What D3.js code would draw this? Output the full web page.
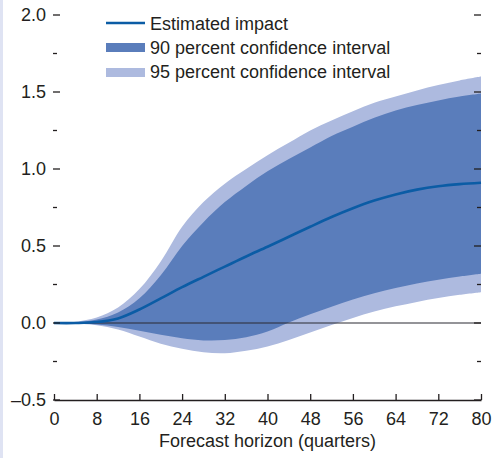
<!DOCTYPE html>
<html>
<head>
<meta charset="utf-8">
<script src="https://cdn.jsdelivr.net/npm/d3@7"></script>
<style>
  html, body { margin: 0; padding: 0; background: #ffffff; }
  svg { display: block; }
  text { font-family: "Liberation Sans", Arial, Helvetica, sans-serif; fill: #231f20; }
</style>
</head>
<body>
<svg id="chart" width="496" height="458"></svg>
<script>
// ---- Data ----
const quarters   = [0, 4, 8, 12, 16, 20, 24, 28, 32, 36, 40, 44, 48, 52, 56, 60, 64, 68, 72, 76, 80];
const estimate   = [0, 0.0, 0.006, 0.03, 0.088, 0.16, 0.233, 0.30, 0.366, 0.432, 0.495, 0.560, 0.625, 0.688, 0.745, 0.795, 0.835, 0.866, 0.888, 0.902, 0.911];
const ci90Upper  = [0, 0.005, 0.022, 0.068, 0.16, 0.31, 0.50, 0.655, 0.785, 0.89, 0.985, 1.065, 1.14, 1.215, 1.275, 1.333, 1.38, 1.415, 1.445, 1.47, 1.49];
const ci90Lower  = [0, -0.002, -0.01, -0.026, -0.05, -0.077, -0.099, -0.113, -0.111, -0.092, -0.055, 0.003, 0.057, 0.105, 0.153, 0.193, 0.227, 0.256, 0.281, 0.302, 0.32];
const ci95Upper  = [0, 0.008, 0.035, 0.10, 0.22, 0.40, 0.625, 0.785, 0.905, 1.0, 1.09, 1.17, 1.25, 1.315, 1.375, 1.43, 1.47, 1.51, 1.545, 1.575, 1.60];
const ci95Lower  = [0, -0.004, -0.015, -0.042, -0.088, -0.135, -0.168, -0.19, -0.196, -0.18, -0.152, -0.11, -0.062, -0.013, 0.033, 0.075, 0.108, 0.137, 0.162, 0.183, 0.20];
const xTicks     = [0, 8, 16, 24, 32, 40, 48, 56, 64, 72, 80];
const yMajorTicks = [-0.5, 0, 0.5, 1, 1.5, 2];
const yMinorTicks = [-0.25, 0.25, 0.75, 1.25, 1.75];
const legendLabels = ["Estimated impact", "90 percent confidence interval", "95 percent confidence interval"];
const xTitle = "Forecast horizon (quarters)";

const colors = { line: "#0b5ca5", ci90: "#5a7dbb", ci95: "#adbadf", strip: "#dfe3f3" };

const svg = d3.select("#chart");
const W = 496, H = 458;
const mLeft = 54, mRight = 481, mTop = 15, mBottom = 400;

const x = d3.scaleLinear().domain([0, 80]).range([mLeft, mRight]);
const y = d3.scaleLinear().domain([-0.5, 2]).range([mBottom, mTop]);

// left lavender strip
svg.append("rect").attr("x", 0).attr("y", 0).attr("width", 3).attr("height", H).attr("fill", colors.strip);

const rows = quarters.map((q, i) => ({
  q, est: estimate[i], u90: ci90Upper[i], l90: ci90Lower[i], u95: ci95Upper[i], l95: ci95Lower[i]
}));

const curve = d3.curveCatmullRom.alpha(0.5);
const area95 = d3.area().curve(curve).x(d => x(d.q)).y0(d => y(d.l95)).y1(d => y(d.u95));
const area90 = d3.area().curve(curve).x(d => x(d.q)).y0(d => y(d.l90)).y1(d => y(d.u90));
const lineEst = d3.line().curve(curve).x(d => x(d.q)).y(d => y(d.est));

svg.append("path").datum(rows).attr("d", area95).attr("fill", colors.ci95);
svg.append("path").datum(rows).attr("d", area90).attr("fill", colors.ci90);

// zero line
svg.append("line").attr("x1", mLeft).attr("x2", mRight).attr("y1", y(0)).attr("y2", y(0))
  .attr("stroke", "#2b2b33").attr("stroke-width", 1.2);

svg.append("path").datum(rows).attr("d", lineEst)
  .attr("fill", "none").attr("stroke", colors.line).attr("stroke-width", 2.6);

// Y ticks (left & right, inward)
const g = svg.append("g");
yMajorTicks.forEach(v => {
  g.append("line").attr("x1", mLeft - 1).attr("x2", mLeft + 6).attr("y1", y(v)).attr("y2", y(v))
    .attr("stroke", "#231f20").attr("stroke-width", 1.3);
  g.append("line").attr("x1", mRight - 7).attr("x2", mRight).attr("y1", y(v)).attr("y2", y(v))
    .attr("stroke", "#231f20").attr("stroke-width", 1.3);
});
yMinorTicks.forEach(v => {
  g.append("line").attr("x1", mLeft - 1).attr("x2", mLeft + 3).attr("y1", y(v)).attr("y2", y(v))
    .attr("stroke", "#231f20").attr("stroke-width", 1.3);
  g.append("line").attr("x1", mRight - 4).attr("x2", mRight).attr("y1", y(v)).attr("y2", y(v))
    .attr("stroke", "#231f20").attr("stroke-width", 1.3);
});
const fmtY = v => (v < 0 ? "\u2013" : "") + d3.format(".1f")(Math.abs(v));
yMajorTicks.forEach(v => {
  g.append("text").attr("x", mLeft - 8).attr("y", y(v)).attr("dy", "0.35em")
    .attr("text-anchor", "end").attr("font-size", 18).text(fmtY(v));
});

// X axis
const xAxis = d3.axisBottom(x).tickValues(xTicks).tickSizeInner(-6).tickSizeOuter(0).tickPadding(12);
const xg = svg.append("g").attr("transform", `translate(0,${mBottom})`).call(xAxis);
xg.attr("font-family", null).attr("font-size", null);
xg.select(".domain").attr("stroke", "#231f20").attr("stroke-width", 1.5);
xg.selectAll(".tick line").attr("stroke", "#231f20").attr("stroke-width", 1.3);
xg.selectAll(".tick text").attr("font-size", 18).attr("fill", "#231f20");

svg.append("text").attr("x", (mLeft + mRight) / 2).attr("y", 447).attr("text-anchor", "middle")
  .attr("font-size", 18).text(xTitle);

// Legend
const lg = svg.append("g");
const lx = 106, sw = 39;
lg.append("line").attr("x1", lx).attr("x2", lx + sw).attr("y1", 23).attr("y2", 23)
  .attr("stroke", colors.line).attr("stroke-width", 2.6);
lg.append("rect").attr("x", lx).attr("y", 43).attr("width", sw).attr("height", 9).attr("fill", colors.ci90);
lg.append("rect").attr("x", lx).attr("y", 68).attr("width", sw).attr("height", 9).attr("fill", colors.ci95);
const baselines = [30, 54, 78];
legendLabels.forEach((t, i) => {
  lg.append("text").attr("x", 150).attr("y", baselines[i]).attr("font-size", 18).text(t);
});
</script>
</body>
</html>
